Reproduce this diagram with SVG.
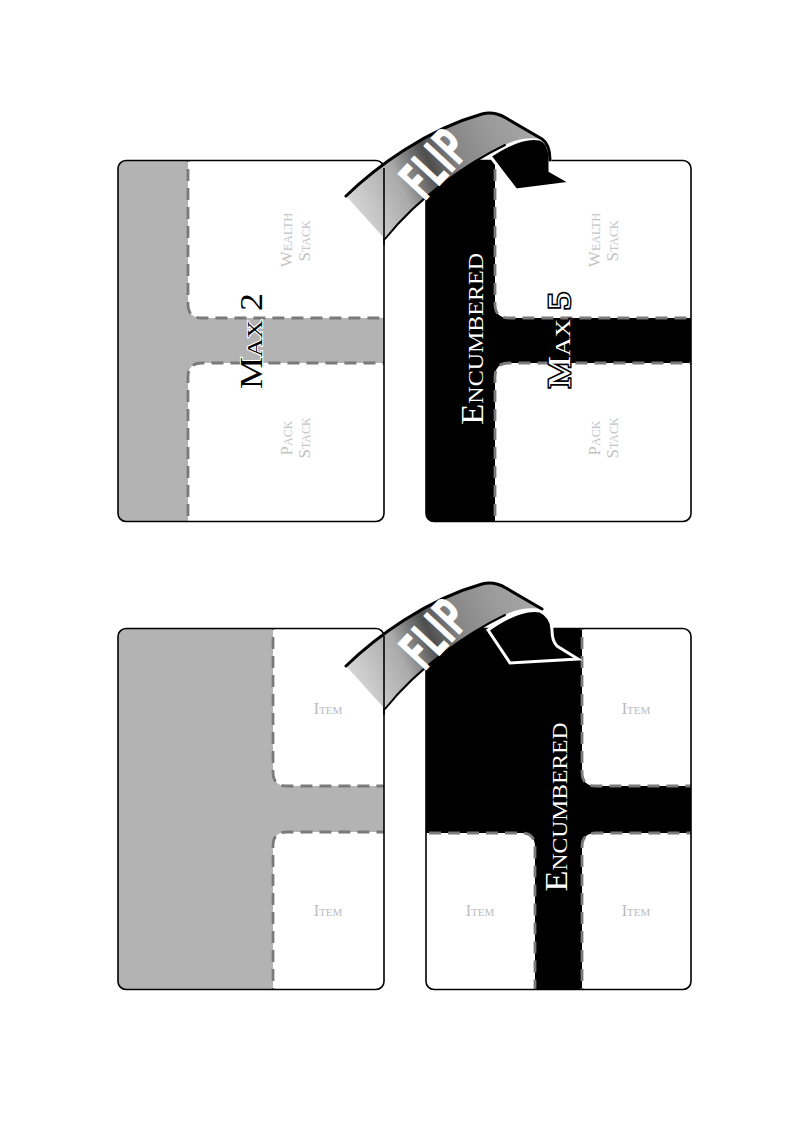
<svg xmlns="http://www.w3.org/2000/svg" width="800" height="1131" viewBox="0 0 800 1131">
<style>
.card{fill:#fff;stroke:none}
.edge{fill:none;stroke:#000;stroke-width:1.6}
.cell{fill:#fff;stroke:#7a7a7a;stroke-width:2.8;stroke-dasharray:12 7}
.lbl{font-family:"Liberation Serif","DejaVu Serif",serif;font-variant:small-caps;fill:#c4c4c4;font-size:17px;text-anchor:middle}
.item{font-family:"Liberation Serif","DejaVu Serif",serif;font-variant:small-caps;fill:#bbbbbb;font-size:16px;text-anchor:middle}
.big{font-family:"Liberation Serif","DejaVu Serif",serif;font-variant:small-caps;font-size:31px;text-anchor:middle;paint-order:stroke}
.enc{font-family:"Liberation Serif","DejaVu Serif",serif;font-variant:small-caps;font-size:32px;text-anchor:middle;fill:#fff}
.flip{font-family:"Liberation Sans Narrow","DejaVu Sans Condensed","Liberation Sans",sans-serif;font-weight:bold;font-size:54px;fill:#fff;text-anchor:middle}
.rib-edge{fill:none;stroke:#000;stroke-linecap:round}
</style>
<defs>
<clipPath id="c1"><rect x="118" y="160.5" width="266" height="361" rx="8"/></clipPath>
<clipPath id="c2"><rect x="426" y="160.5" width="265" height="361" rx="8"/></clipPath>
<clipPath id="c3"><rect x="118" y="628.5" width="266" height="361" rx="8"/></clipPath>
<clipPath id="c4"><rect x="426" y="628.5" width="265" height="361" rx="8"/></clipPath>
<linearGradient id="rg" gradientUnits="userSpaceOnUse" x1="350" y1="215" x2="540" y2="128">
<stop offset="0" stop-color="#dadada"/>
<stop offset="0.28" stop-color="#aaaaaa"/>
<stop offset="0.45" stop-color="#4e4e4e"/>
<stop offset="0.58" stop-color="#858585"/>
<stop offset="0.78" stop-color="#9a9a9a"/>
<stop offset="1" stop-color="#a8a8a8"/>
</linearGradient>
<path id="ribbon" d="M346,196 C375,168 425,130 482,114 Q494,111 506,118 L542,139 C530,137 515,139 505,145 C470,162 420,195 385,239 Z"/>
</defs>

<g id="card1">
<g clip-path="url(#c1)">
<rect x="110" y="150" width="290" height="390" fill="#b3b3b3"/>
<path class="cell" d="M188,150 V304 Q188,318 202,318 H400 V150 Z"/>
<path class="cell" d="M188,535 V377 Q188,363 202,363 H400 V535 Z"/>
</g>
<rect class="edge" x="118" y="160.5" width="266" height="361" rx="8"/>
<text class="lbl" transform="translate(292,240) rotate(-90)">Wealth</text>
<text class="lbl" transform="translate(310,241) rotate(-90)">Stack</text>
<text class="lbl" transform="translate(292,438) rotate(-90)">Pack</text>
<text class="lbl" transform="translate(310,438) rotate(-90)">Stack</text>
<text class="big" fill="#000" stroke="#fff" stroke-width="2" transform="translate(262,341) rotate(-90)" textLength="96" lengthAdjust="spacingAndGlyphs">Max 2</text>
</g>

<g id="card2">
<g clip-path="url(#c2)">
<rect x="410" y="150" width="290" height="390" fill="#000"/>
<path class="cell" d="M495,150 V304 Q495,318 509,318 H700 V150 Z"/>
<path class="cell" d="M495,535 V377 Q495,363 509,363 H700 V535 Z"/>
</g>
<rect class="edge" x="426" y="160.5" width="265" height="361" rx="8"/>
<text class="lbl" transform="translate(600,240) rotate(-90)">Wealth</text>
<text class="lbl" transform="translate(618,241) rotate(-90)">Stack</text>
<text class="lbl" transform="translate(600,438) rotate(-90)">Pack</text>
<text class="lbl" transform="translate(618,438) rotate(-90)">Stack</text>
<text class="enc" transform="translate(483,339) rotate(-90)" textLength="172" lengthAdjust="spacingAndGlyphs">Encumbered</text>
<text class="big" fill="#fff" stroke="#000" stroke-width="3" transform="translate(570,340) rotate(-90)" textLength="96" lengthAdjust="spacingAndGlyphs">Max 5</text>
</g>

<g id="card3">
<g clip-path="url(#c3)">
<rect x="110" y="618" width="290" height="390" fill="#b3b3b3"/>
<path class="cell" d="M273,618 V772 Q273,786 287,786 H400 V618 Z"/>
<path class="cell" d="M273,1000 V846 Q273,832 287,832 H400 V1000 Z"/>
</g>
<rect class="edge" x="118" y="628.5" width="266" height="361" rx="8"/>
<text class="item" x="328" y="714">Item</text>
<text class="item" x="328" y="916">Item</text>
</g>

<g id="card4">
<g clip-path="url(#c4)">
<rect x="410" y="618" width="290" height="390" fill="#000"/>
<path class="cell" d="M582,618 V772 Q582,786 596,786 H700 V618 Z"/>
<path class="cell" d="M582,1000 V847 Q582,833 596,833 H700 V1000 Z"/>
<path class="cell" d="M410,833 H521 Q535,833 535,847 V1000 H410 Z"/>
</g>
<rect class="edge" x="426" y="628.5" width="265" height="361" rx="8"/>
<text class="item" x="636" y="714">Item</text>
<text class="item" x="636" y="916">Item</text>
<text class="item" x="480" y="916">Item</text>
<text class="enc" transform="translate(567,807) rotate(-90)" textLength="169" lengthAdjust="spacingAndGlyphs">Encumbered</text>
</g>

<g id="flip-top">
<path d="M490,156 C505,146 525,136 540,139 C548,142 550,150 550,160 L550,171 L571,183 L516,190 Z" fill="#000" stroke="#fff" stroke-width="3" stroke-linejoin="miter"/>
<use href="#ribbon" fill="url(#rg)"/>
<path class="rib-edge" stroke-width="3" d="M346,196 C375,168 425,130 482,114 Q494,111 506,118 L542,139 C548,143 550,150 550,160"/>
<path class="rib-edge" stroke-width="2" d="M385,239 C420,195 470,162 505,145"/>
<text class="flip" transform="translate(448,177) rotate(-47)" textLength="70" lengthAdjust="spacingAndGlyphs">FLIP</text>
</g>

<g id="flip-bottom" transform="translate(0,470)">
<path d="M488,160 C505,148 525,138 540,141 C548,145 552,152 552,160 Q552,171 557,176 L578,189 L510,193 Z" fill="#000" stroke="#fff" stroke-width="3" stroke-linejoin="miter"/>
<use href="#ribbon" fill="url(#rg)"/>
<path class="rib-edge" stroke-width="3" d="M346,196 C375,168 425,130 482,114 Q494,111 506,118 L542,139"/>
<path class="rib-edge" stroke-width="2" d="M385,239 C420,195 470,162 505,145"/>
<text class="flip" transform="translate(448,177) rotate(-47)" textLength="70" lengthAdjust="spacingAndGlyphs">FLIP</text>
</g>

<g id="edges-over">
<line x1="384" y1="168" x2="384" y2="245" stroke="#000" stroke-width="1.6"/>
<line x1="384" y1="636" x2="384" y2="715" stroke="#000" stroke-width="1.6"/>
</g>
</svg>
